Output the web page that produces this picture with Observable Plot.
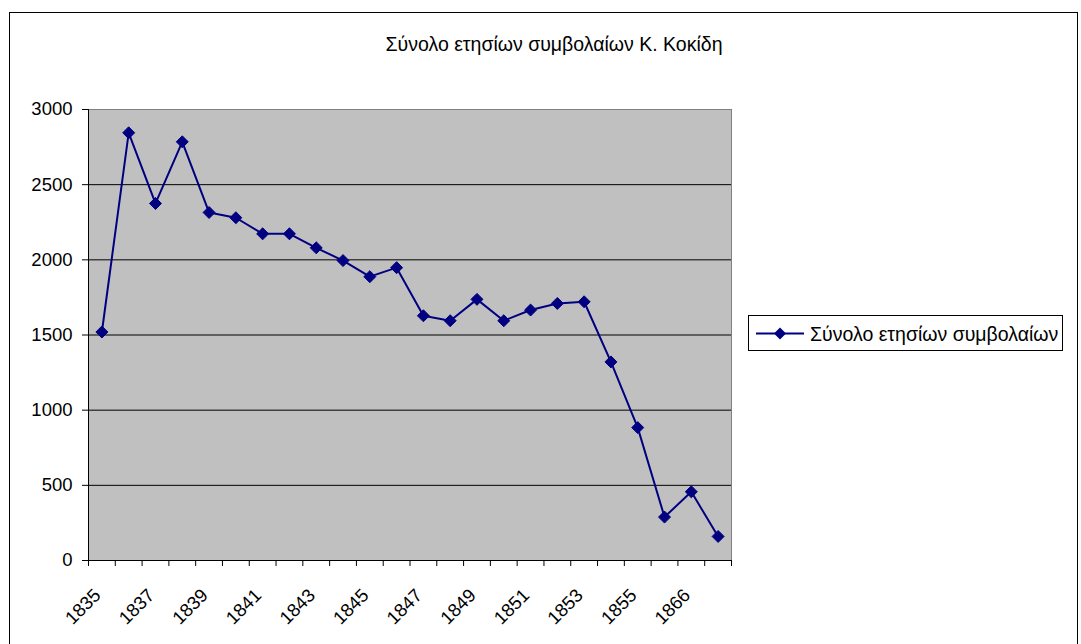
<!DOCTYPE html>
<html><head><meta charset="utf-8">
<script src="https://cdn.jsdelivr.net/npm/d3@7"></script>
<script src="https://cdn.jsdelivr.net/npm/@observablehq/plot@0.6"></script>
<style>
body{margin:0;background:#fff;font-family:"Liberation Sans",Arial,sans-serif;}
#wrap{position:relative;width:1081px;height:644px;overflow:hidden;background:#fff;}
#border{position:absolute;left:9px;top:12px;width:1069px;height:700px;border:1px solid #000;box-sizing:border-box;}
#title{position:absolute;left:0;top:35px;width:1108px;text-align:center;font-size:19.5px;line-height:1;color:#000;}
#chart{position:absolute;left:0;top:0;}
#legend{position:absolute;left:748px;top:315px;width:315px;height:36px;border:1px solid #000;box-sizing:border-box;background:#fff;}
#legend svg{position:absolute;left:0;top:0;}
</style>
</head><body>
<div id="wrap">
  <div id="border"></div>
  <div id="chart"></div>
  <div id="title"></div>
  <div id="legend"></div>
</div>
<script>
const titleText = "Σύνολο ετησίων συμβολαίων Κ. Κοκίδη";
const seriesName = "Σύνολο ετησίων συμβολαίων";
const categories = ["1835","1836","1837","1838","1839","1840","1841","1842","1843","1844","1845","1846","1847","1848","1849","1850","1851","1852","1853","1854","1855","1856","1866","1867"];
const values = [1520, 2845, 2375, 2785, 2315, 2280, 2173, 2173, 2080, 1995, 1888, 1948, 1628, 1595, 1737, 1595, 1666, 1710, 1721, 1321, 884, 289, 457, 160];
const yTicks = [0, 500, 1000, 1500, 2000, 2500, 3000];
const gridValues = [500, 1000, 1500, 2000, 2500];
const labelCategories = ["1835","1837","1839","1841","1843","1845","1847","1849","1851","1853","1855","1866"];

const n = categories.length;
const data = categories.map((c, i) => ({i, cat: c, value: values[i]}));
const boundaries = d3.range(n + 1).map(k => k - 0.5);
const labelIdx = labelCategories.map(c => categories.indexOf(c));
const NAVY = "#000080";

document.getElementById("title").textContent = titleText;

const chart = Plot.plot({
  width: 1081, height: 644,
  marginLeft: 88, marginRight: 350, marginTop: 109, marginBottom: 84,
  style: {fontFamily: "'Liberation Sans', Arial, sans-serif", fontSize: "18.5px", color: "#000", background: "transparent"},
  x: {type: "linear", domain: [-0.5, n - 0.5], axis: null, label: null},
  y: {domain: [0, 3000], axis: null, label: null},
  marks: [
    Plot.frame({fill: "#c0c0c0", stroke: "#808080"}),
    Plot.ruleY(gridValues, {stroke: "#000", strokeWidth: 1}),
    Plot.ruleX([-0.5], {stroke: "#000"}),
    Plot.ruleY([0], {stroke: "#000"}),
    Plot.axisY({ticks: yTicks, tickSize: 6, tickPadding: 10, tickFormat: d => String(d), fontSize: 18.5, label: null}),
    Plot.axisX({ticks: boundaries, tickSize: 6, tickFormat: () => "", label: null}),
    Plot.text(labelIdx, {x: d => d, frameAnchor: "bottom", text: d => categories[d], rotate: -45, textAnchor: "end", lineAnchor: "bottom", dy: 36, fontSize: 18.5}),
    Plot.line(data, {x: "i", y: "value", stroke: NAVY, strokeWidth: 2}),
    Plot.dot(data, {x: "i", y: "value", symbol: "diamond2", r: 5.4, fill: NAVY, stroke: NAVY, strokeWidth: 1})
  ]
});
document.getElementById("chart").appendChild(chart);

// legend
const lg = d3.select("#legend").append("svg").attr("width", 315).attr("height", 36);
lg.append("line").attr("x1", 7).attr("x2", 55).attr("y1", 17.5).attr("y2", 17.5).attr("stroke", NAVY).attr("stroke-width", 2);
lg.append("path").attr("d", d3.symbol(d3.symbolDiamond2, Math.PI * 5.4 * 5.4)()).attr("transform", "translate(31,17.5)").attr("fill", NAVY);
lg.append("text").attr("x", 61).attr("y", 25).attr("font-size", 19.5).attr("font-family", "'Liberation Sans', Arial, sans-serif").attr("fill", "#000").text(seriesName);
</script>
</body></html>
